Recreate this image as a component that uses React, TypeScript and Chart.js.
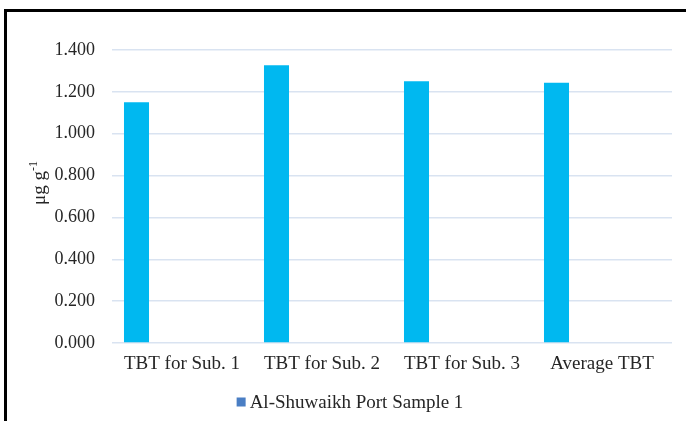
import React, { useEffect, useRef } from "react";
import { Chart, registerables } from "chart.js";

Chart.register(...registerables);

const categories = ["TBT for Sub. 1", "TBT for Sub. 2", "TBT for Sub. 3", "Average TBT"];
const sample1Values = [1.15, 1.327, 1.251, 1.243];
const emptySeriesA: (number | null)[] = [null, null, null, null];
const emptySeriesB: (number | null)[] = [null, null, null, null];
const seriesName = "Al-Shuwaikh Port Sample 1";
const yMin = 0;
const yMax = 1.4;
const yStep = 0.2;
const yTitleMain = "μg g";
const yTitleSup = "-1";

const FONT = '"Liberation Serif", "Times New Roman", Times, serif';
const TEXT = "#262626";

const extrasPlugin = {
  id: "extras",
  afterDraw(chart: any) {
    const ctx = chart.ctx as CanvasRenderingContext2D;
    ctx.save();
    ctx.fillStyle = TEXT;
    ctx.font = `19px ${FONT}`;
    const w1 = ctx.measureText(yTitleMain).width;
    ctx.font = `12px ${FONT}`;
    const w2 = ctx.measureText(yTitleSup).width;
    const total = w1 + w2;
    ctx.translate(45, 183);
    ctx.rotate(-Math.PI / 2);
    ctx.textBaseline = "alphabetic";
    ctx.textAlign = "left";
    ctx.font = `19px ${FONT}`;
    ctx.fillText(yTitleMain, -total / 2, 0);
    ctx.font = `12px ${FONT}`;
    ctx.fillText(yTitleSup, -total / 2 + w1, -8);
    ctx.restore();

    ctx.save();
    ctx.font = `19px ${FONT}`;
    const tw = ctx.measureText(seriesName).width;
    const box = 9;
    const gap = 4;
    const cx = 350;
    const startX = cx - (box + gap + tw) / 2;
    const cy = 402;
    ctx.fillStyle = "#4A7EC4";
    ctx.fillRect(startX, cy - box / 2, box, box);
    ctx.fillStyle = TEXT;
    ctx.textBaseline = "middle";
    ctx.textAlign = "left";
    ctx.fillText(seriesName, startX + box + gap, cy + 1);
    ctx.restore();
  },
};

export default function App() {
  const ref = useRef<HTMLCanvasElement | null>(null);

  useEffect(() => {
    if (!ref.current) return;
    let chart: any = null;
    let cancelled = false;
    const build = () => {
      if (cancelled || !ref.current) return;
      chart = new Chart(ref.current, {
        type: "bar",
        data: {
          labels: categories,
          datasets: [
            {
              label: seriesName,
              data: sample1Values,
              backgroundColor: "#00B8F0",
              borderWidth: 0,
              categoryPercentage: 0.975,
              barPercentage: 0.55,
            },
            {
              label: "",
              data: emptySeriesA,
              backgroundColor: "#00B8F0",
              categoryPercentage: 0.975,
              barPercentage: 0.55,
            },
            {
              label: "",
              data: emptySeriesB,
              backgroundColor: "#00B8F0",
              categoryPercentage: 0.975,
              barPercentage: 0.55,
            },
          ],
        },
        options: {
          responsive: false,
          animation: false,
          devicePixelRatio: 1,
          layout: { padding: { left: 0, top: 50, right: 14, bottom: 38 } },
          plugins: {
            legend: { display: false },
            tooltip: { enabled: false },
          },
          scales: {
            x: {
              grid: { display: false, drawTicks: false },
              border: { display: false },
              ticks: {
                padding: 10,
                color: TEXT,
                font: { family: FONT, size: 19 },
                maxRotation: 0,
              },
              afterFit: (scale: any) => {
                scale.height = 40;
              },
            },
            y: {
              min: yMin,
              max: yMax,
              grid: { color: "#D9E3F1", lineWidth: 1.5, drawTicks: false },
              border: { display: false },
              ticks: {
                stepSize: yStep,
                padding: 17,
                color: TEXT,
                font: { family: FONT, size: 18 },
                callback: (v: any) => Number(v).toFixed(3),
              },
              afterFit: (scale: any) => {
                scale.width = 112;
              },
            },
          },
        },
        plugins: [extrasPlugin],
      } as any);
    };
    const fontsApi = (document as any).fonts;
    if (fontsApi && fontsApi.load) {
      Promise.all([
        fontsApi.load(`19px "Liberation Serif"`),
        fontsApi.load(`12px "Liberation Serif"`),
      ])
        .catch(() => null)
        .then(build);
    } else {
      build();
    }
    return () => {
      cancelled = true;
      if (chart) chart.destroy();
    };
  }, []);

  return (
    <div style={{ position: "fixed", inset: 0, overflow: "hidden", background: "#fff" }}>
      <span
        style={{
          position: "absolute",
          left: -1000,
          top: -1000,
          fontFamily: FONT,
          fontSize: 19,
        }}
      >
        TBT μg
      </span>
      <div
        style={{
          position: "absolute",
          left: 4,
          top: 9,
          width: 900,
          height: 700,
          borderTop: "3px solid #000",
          borderLeft: "3px solid #000",
        }}
      />
      <canvas
        ref={ref}
        width={686}
        height={421}
        style={{ position: "absolute", left: 0, top: 0, width: 686, height: 421 }}
      />
    </div>
  );
}
